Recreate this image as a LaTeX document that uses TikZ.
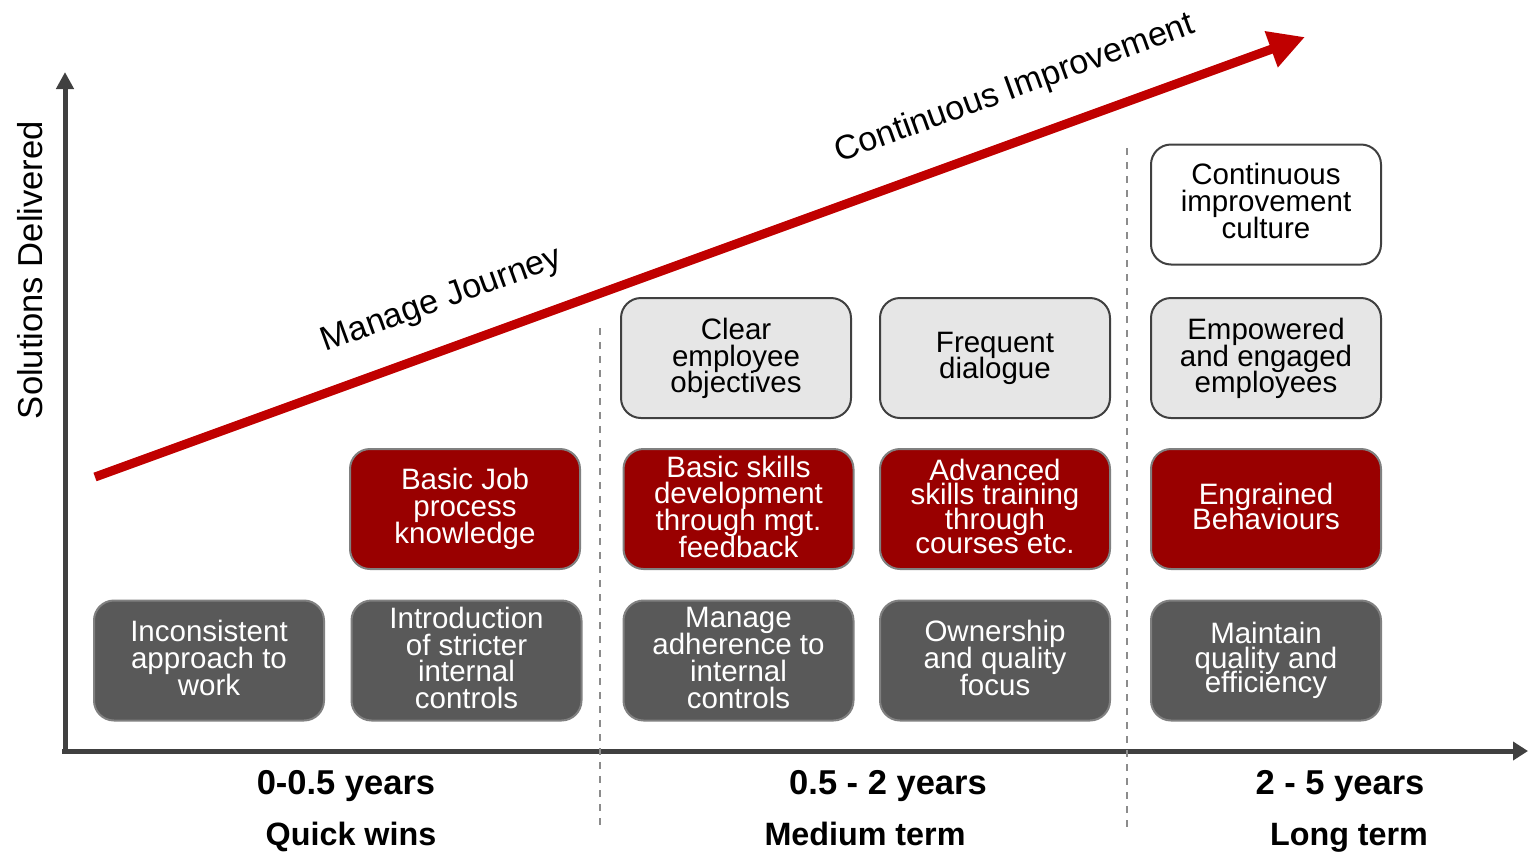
\documentclass[tikz,border=0pt]{standalone}
\usepackage{fontspec}
\setmainfont{Liberation Sans}
\usetikzlibrary{arrows.meta}
\definecolor{axisgray}{HTML}{404040}
\definecolor{boxred}{HTML}{990000}
\definecolor{arrowred}{HTML}{C00000}
\definecolor{boxdark}{HTML}{595959}
\definecolor{boxlight}{HTML}{E6E6E6}
\definecolor{edgegray}{HTML}{808080}
\definecolor{dashgray}{HTML}{8C8C8C}
% caption font for the cards with a fixed line pitch
\newcommand\cardfont[1]{\fontsize{29.5}{#1}\selectfont\setlength{\lineskiplimit}{-50pt}}
\tikzset{
  card/.style={rounded corners=20pt, minimum width=230pt, minimum height=120pt,
    inner sep=0pt, line width=2pt},
  darkcard/.style={card, fill=boxdark, draw=edgegray},
  redcard/.style={card, fill=boxred, draw=edgegray},
  lightcard/.style={card, fill=boxlight, draw=axisgray},
  whitecard/.style={card, fill=white, draw=axisgray},
  wide/.style={inner sep=0pt, align=center, font={\cardfont{26.7}}},
  tight/.style={inner sep=0pt, align=center, font={\cardfont{24.2}}},
  onred/.style={text=white},
  ondark/.style={text=white},
  onlight/.style={text=black},
  axisline/.style={draw=axisgray, line width=5pt},
  divider/.style={draw=dashgray, line width=2pt, dash pattern=on 7pt off 7pt},
  period/.style={anchor=base, font=\fontsize{34.5}{34.5}\selectfont\bfseries},
  term/.style={anchor=base, font=\fontsize{32.3}{32.3}\selectfont\bfseries},
  slopetext/.style={rotate=20, font=\fontsize{34}{34}\selectfont}
}
% a rounded card with its caption, raised by the optional amount
\newcommand\card[7][2.5pt]{%
  \node[#2] (#3) at (#4) {};
  \node[#5, #6] (#3-text) at ([yshift=#1]#3.center) {#7};}
\begin{document}
\begin{tikzpicture}[x=1pt, y=-1pt]
\useasboundingbox (0,0) rectangle (1528,852);

% axes
\coordinate (ybase) at (65,753.5);
\coordinate (ytop) at (65,72);
\coordinate (xstart) at (62,751);
\coordinate (xend) at (1528,751);
\draw[axisline, -{Triangle[length=17pt,width=17pt]}] (ybase) -- (ytop);
\draw[axisline, -{Triangle[length=15pt,width=18pt]}] (xstart) -- (xend);
\node[rotate=90, font=\fontsize{34.6}{34.6}\selectfont] (ylabel) at (30,270) {Solutions Delivered};

% period dividers
\coordinate (d1top) at (600,328);
\coordinate (d1bot) at (600,832);
\coordinate (d2top) at (1127,148);
\coordinate (d2bot) at (1127,832);
\draw[divider] (d1top) -- (d1bot);
\draw[divider] (d2top) -- (d2bot);

% improvement arrow
\coordinate (arrstart) at (95,477);
\coordinate (arrtip) at (1305,37);
\draw[arrowred, line width=9pt, -{Triangle[length=36pt,width=36pt]}] (arrstart) -- (arrtip);
\node[slopetext] (manage) at (442,301) {Manage Journey};
\node[slopetext] (contimp) at (1015,89) {Continuous Improvement};

% bottom row
\card{darkcard}{b1}{209,660.5}{wide}{ondark}{Inconsistent\\approach to\\work}
\card{darkcard}{b2}{466.5,660.5}{wide}{ondark}{Introduction\\of stricter\\internal\\controls}
\card{darkcard}{b3}{738.5,660.5}{wide}{ondark}{Manage\\adherence to\\internal\\controls}
\card{darkcard}{b4}{995,660.5}{wide}{ondark}{Ownership\\and quality\\focus}
\card[0pt]{darkcard}{b5}{1266,660.5}{tight}{ondark}{Maintain\\quality and\\efficiency}

% middle row
\card[0pt]{redcard}{r2}{465,509}{wide}{onred}{Basic Job\\process\\knowledge}
\card{redcard}{r3}{738.5,509}{wide}{onred}{Basic skills\\development\\through mgt.\\feedback}
\card{redcard}{r4}{995,509}{tight}{onred}{Advanced\\skills training\\through\\courses etc.}
\card{redcard}{r5}{1266,509}{tight}{onred}{Engrained\\Behaviours}

% upper row
\card[-0.5pt]{lightcard}{l3}{736,358}{wide}{onlight}{Clear\\employee\\objectives}
\card[-0.5pt]{lightcard}{l4}{995,358}{wide}{onlight}{Frequent\\dialogue}
\card[-0.5pt]{lightcard}{l5}{1266,358}{wide}{onlight}{Empowered\\and engaged\\employees}

% top
\card[3.5pt]{whitecard}{w5}{1266,204.5}{wide}{onlight}{Continuous\\improvement\\culture}

% time periods
\node[period] (p1) at (346,794) {0-0.5 years};
\node[term] (t1) at (351,845) {Quick wins};
\node[period] (p2) at (888,794) {0.5 - 2 years};
\node[term] (t2) at (865,845) {Medium term};
\node[period] (p3) at (1340,794) {2 - 5 years};
\node[term] (t3) at (1349,845) {Long term};
\end{tikzpicture}
\end{document}
